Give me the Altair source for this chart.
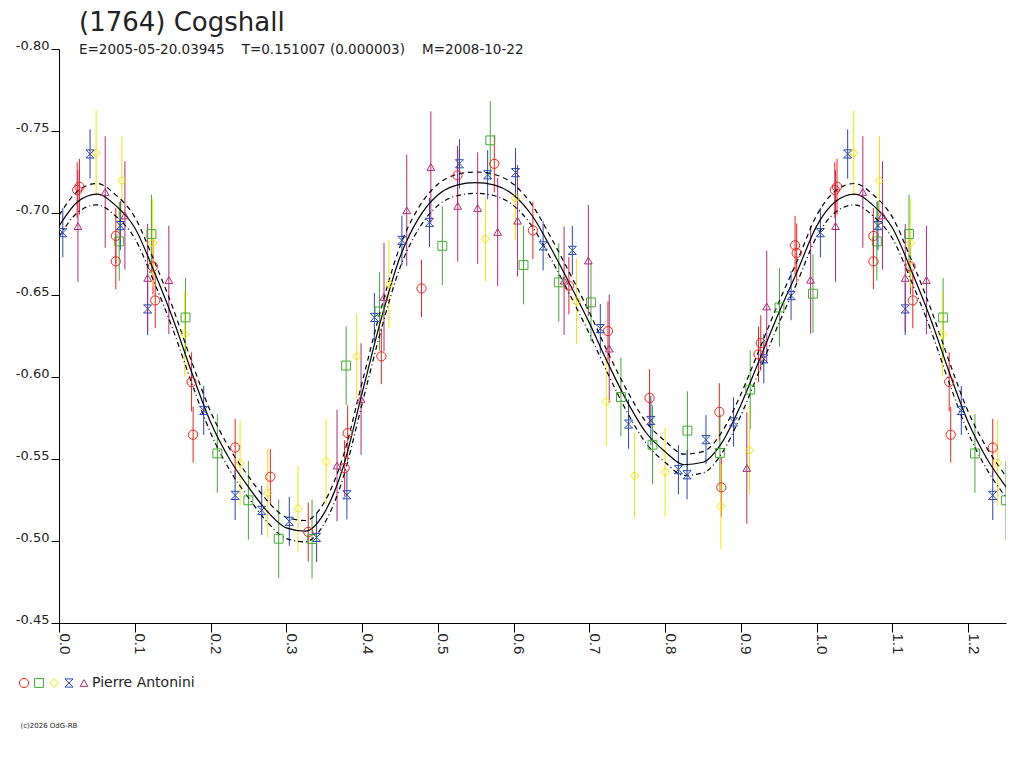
import altair as alt
import pandas as pd

# ---------------- data ----------------
# red circles
red_phase = [0.024, 0.027, 0.075, 0.075, 0.124, 0.127, 0.175, 0.177, 0.2325, 0.279, 0.329, 0.377, 0.381,
             0.4255, 0.4785, 0.526, 0.5746, 0.6255, 0.673, 0.7246, 0.7795, 0.8716, 0.8742, 0.9233, 0.9263,
             0.9716, 0.9737]
red_mag = [-0.714, -0.716, -0.686, -0.6705, -0.6674, -0.6467, -0.597, -0.5648, -0.557, -0.5392, -0.5055,
           -0.5445, -0.5658, -0.6126, -0.654, -0.7229, -0.730, -0.6894, -0.6557, -0.628, -0.5872, -0.5787,
           -0.5327, -0.6138, -0.6207, -0.6803, -0.6756]
red_err = [0.017, 0.017, 0.017, 0.017, 0.017, 0.017, 0.018, 0.017, 0.0175, 0.017, 0.018, 0.017, 0.017,
           0.017, 0.0175, 0.018, 0.0175, 0.0175, 0.0175, 0.018, 0.0175, 0.0175, 0.018, 0.017, 0.017,
           0.018, 0.018]

# green squares
green_phase = [0.0795, 0.122, 0.167, 0.209, 0.250, 0.290, 0.334, 0.379, 0.423, 0.506, 0.5693, 0.6132,
               0.6597, 0.7022, 0.7417, 0.7834, 0.8295, 0.8724, 0.9124, 0.951, 0.9952]
green_mag = [-0.6827, -0.6872, -0.6363, -0.5534, -0.5248, -0.5014, -0.5012, -0.607, -0.640, -0.680,
             -0.7443, -0.6683, -0.6577, -0.6455, -0.5878, -0.5587, -0.5673, -0.5537, -0.5923, -0.6424,
             -0.6508]
green_err = [0.024, 0.024, 0.024, 0.024, 0.024, 0.024, 0.024, 0.024, 0.024, 0.024, 0.024, 0.024,
             0.024, 0.024, 0.024, 0.024, 0.024, 0.024, 0.024, 0.024, 0.024]

# yellow diamonds
yellow_phase = [0.049, 0.083, 0.1237, 0.166, 0.239, 0.2755, 0.3154, 0.3526, 0.393, 0.4355, 0.5628,
                0.6026, 0.683, 0.7224, 0.7597, 0.800, 0.8737, 0.9114]
yellow_mag = [-0.7366, -0.7197, -0.6817, -0.6262, -0.5476, -0.5293, -0.5197, -0.5485, -0.6126, -0.6567,
              -0.6842, -0.7091, -0.6463, -0.585, -0.5398, -0.542, -0.5211, -0.5553]
yellow_err = [0.026, 0.027, 0.027, 0.026, 0.026, 0.027, 0.026, 0.026, 0.026, 0.027, 0.026,
              0.026, 0.026, 0.027, 0.026, 0.027, 0.026, 0.027]

# blue hourglasses
blue_phase = [0.005, 0.041, 0.081, 0.117, 0.191, 0.2325, 0.2676, 0.304, 0.340, 0.380, 0.4163, 0.4526,
              0.489, 0.5286, 0.5658, 0.6026, 0.639, 0.6776, 0.7145, 0.7518, 0.7812, 0.8176, 0.829,
              0.854, 0.8904, 0.9303, 0.9663]
blue_mag = [-0.688, -0.736, -0.6923, -0.6415, -0.5796, -0.5278, -0.5187, -0.512, -0.5022, -0.5282,
            -0.6363, -0.6833, -0.6943, -0.730, -0.7233, -0.7246, -0.680, -0.6772, -0.6295, -0.5713,
            -0.5735, -0.5435, -0.5404, -0.5618, -0.5726, -0.6111, -0.6496]
blue_err = [0.015, 0.015, 0.015, 0.016, 0.015, 0.015, 0.015, 0.015, 0.015, 0.015, 0.015, 0.015,
            0.015, 0.015, 0.015, 0.015, 0.015, 0.015, 0.015, 0.015, 0.015, 0.015, 0.015,
            0.015, 0.015, 0.015, 0.015]

# purple triangles
purple_phase = [0.025, 0.061, 0.087, 0.117, 0.145, 0.367, 0.3987, 0.429, 0.459, 0.4908, 0.5263, 0.5526,
                0.579, 0.6053, 0.6667, 0.6987, 0.7263, 0.9079, 0.9342, 0.9921]
purple_mag = [-0.692, -0.7128, -0.6985, -0.6604, -0.6591, -0.546, -0.5866, -0.6488, -0.7016, -0.728,
              -0.7043, -0.703, -0.6884, -0.6953, -0.6587, -0.671, -0.6173, -0.5445, -0.643, -0.6593]
purple_err = [0.034, 0.034, 0.033, 0.033, 0.033, 0.034, 0.034, 0.033, 0.034, 0.034, 0.034, 0.034,
              0.033, 0.034, 0.033, 0.034, 0.033, 0.034, 0.034, 0.033]

# fitted lightcurve and its envelope half-width
fit_phase = [0.000, 0.025, 0.050, 0.075, 0.100, 0.125, 0.150, 0.175, 0.200, 0.225, 0.250, 0.275,
             0.300, 0.325, 0.350, 0.375, 0.400, 0.425, 0.450, 0.475, 0.500, 0.525, 0.550, 0.575,
             0.600, 0.625, 0.650, 0.675, 0.700, 0.725, 0.750, 0.775, 0.800, 0.825, 0.850, 0.875,
             0.900, 0.925, 0.950, 0.975, 1.000]
fit_mag = [-0.692, -0.707, -0.7115, -0.7045, -0.691, -0.665, -0.636, -0.603, -0.5725, -0.550, -0.533,
           -0.518, -0.508, -0.506, -0.517, -0.545, -0.590, -0.635, -0.673, -0.697, -0.711, -0.717,
           -0.7185, -0.717, -0.711, -0.698, -0.678, -0.656, -0.633, -0.608, -0.585, -0.566, -0.5545,
           -0.5465, -0.548, -0.560, -0.583, -0.611, -0.639, -0.665, -0.692]
ENVELOPE = 0.0065

groups = ["r", "g", "y", "b", "p"]
group_colors = ["#ee2222", "#44aa33", "#f2e400", "#2a46b0", "#b02a78"]
HOURGLASS = "M-1,-1L1,-1L-1,1L1,1Z"
group_shapes = ["circle", "square", "diamond", HOURGLASS, "triangle-up"]
group_sizes = [85, 60, 115, 56, 90]

x_ticks = [0.0, 0.05, 0.1, 0.15, 0.2, 0.25, 0.3, 0.35, 0.4, 0.45, 0.5, 0.55, 0.6, 0.65, 0.7, 0.75,
           0.8, 0.85, 0.9, 0.95, 1.0, 1.05, 1.1, 1.15, 1.2, 1.25]
y_ticks = [-0.80, -0.75, -0.70, -0.65, -0.60, -0.55, -0.50, -0.45]

TITLE = "(1764) Cogshall"
NB = "\u00a0" * 4
SUBTITLE = "E=2005-05-20.03945" + NB + "T=0.151007 (0.000003)" + NB + "M=2008-10-22"
OBSERVER = "Pierre Antonini"
COPYRIGHT = "(c)2026 OdG-RB"

# ---------------- tables ----------------
rows = []
series = [("r", red_phase, red_mag, red_err), ("g", green_phase, green_mag, green_err),
          ("y", yellow_phase, yellow_mag, yellow_err), ("b", blue_phase, blue_mag, blue_err),
          ("p", purple_phase, purple_mag, purple_err)]
for key, ph, mg, er in series:
    for p, m, e in zip(ph, mg, er):
        rows.append({"obs": key, "phase": p, "mag": m, "lo": m - e, "hi": m + e})
        if p + 1.0 <= 1.25:
            rows.append({"obs": key, "phase": p + 1.0, "mag": m, "lo": m - e, "hi": m + e})
pts = pd.DataFrame(rows)

crow = [{"phase": p, "mag": m} for p, m in zip(fit_phase, fit_mag)]
crow += [{"phase": p + 1.0, "mag": m} for p, m in zip(fit_phase, fit_mag) if 0 < p <= 0.275]
curve = pd.DataFrame(crow)

# ---------------- scales / axes ----------------
xscale = alt.Scale(domain=[0, 1.25], nice=False, zero=False)
yscale = alt.Scale(domain=[-0.80, -0.45], reverse=True, nice=False, zero=False)

x_axis = alt.Axis(values=x_ticks,
                  labelExpr="abs(round(datum.value*20) % 2) == 0 ? format(datum.value, '.1f') : ''",
                  labelAngle=90, labelAlign="left", labelBaseline="alphabetic",
                  labelFont="Liberation Sans", labelFontSize=15, labelColor="#222222",
                  labelPadding=1, tickSize=9, labelFlush=False, labelOverlap=False,
                  domainColor="black", tickColor="black", grid=False,
                  title=COPYRIGHT, titleX=-39, titleY=102, titleFont="DejaVu Sans",
                  titleFontSize=7, titleFontWeight="normal", titleColor="#222222",
                  titleAlign="left", titleBaseline="middle", titleAngle=0)
y_axis = alt.Axis(values=y_ticks,
                  labelExpr="replace(format(datum.value, '.2f'), '\u2212', '-')",
                  labelFont="DejaVu Sans", labelFontSize=13, labelColor="#222222",
                  labelBaseline="alphabetic", labelPadding=2, tickSize=8, labelFlush=False,
                  labelOverlap=False, domainColor="black", tickColor="black", grid=False, title=None)

leg = alt.Legend(orient="none", legendX=-42, legendY=627, direction="horizontal", columns=5,
                 columnPadding=0, labelOffset=1, padding=0, title=None,
                 labelExpr=f"datum.value == 'p' ? '{OBSERVER}' : ''",
                 labelFont="DejaVu Sans", labelFontSize=14, labelColor="#222222",
                 symbolSize=70, symbolStrokeWidth=1, symbolFillColor="transparent")

color_scale = alt.Scale(domain=groups, range=group_colors)
color_enc = alt.Color("obs:N", scale=color_scale, legend=leg)
shape_enc = alt.Shape("obs:N", scale=alt.Scale(domain=groups, range=group_shapes), legend=leg)
size_enc = alt.Size("obs:N", scale=alt.Scale(domain=groups, range=group_sizes), legend=None)

base_pts = alt.Chart(pts)

bars = base_pts.mark_rule(strokeWidth=1, clip=True).encode(
    x=alt.X("phase:Q", scale=xscale, axis=x_axis),
    y=alt.Y("lo:Q", scale=yscale, axis=y_axis),
    y2="hi:Q",
    color=color_enc,
)

marks = base_pts.mark_point(filled=False, strokeWidth=1, opacity=1, clip=True).encode(
    x=alt.X("phase:Q", scale=xscale),
    y=alt.Y("mag:Q", scale=yscale),
    color=color_enc, shape=shape_enc, size=size_enc,
)

base_c = alt.Chart(curve)
solid = base_c.mark_line(color="black", strokeWidth=1.2, clip=True, interpolate="monotone").encode(
    x=alt.X("phase:Q", scale=xscale), y=alt.Y("mag:Q", scale=yscale), order="phase:Q")
dashed = base_c.transform_calculate(env=f"datum.mag - {ENVELOPE}").mark_line(
    color="black", strokeWidth=1.2, strokeDash=[5, 4], clip=True, interpolate="monotone").encode(
    x=alt.X("phase:Q", scale=xscale), y=alt.Y("env:Q", scale=yscale), order="phase:Q")
dashdot = base_c.transform_calculate(env=f"datum.mag + {ENVELOPE}").mark_line(
    color="black", strokeWidth=1.2, strokeDash=[5, 3, 1, 3], clip=True, interpolate="monotone").encode(
    x=alt.X("phase:Q", scale=xscale), y=alt.Y("env:Q", scale=yscale), order="phase:Q")

chart = alt.layer(bars, solid, dashed, dashdot, marks).properties(
    width=947, height=574,
    background="white",
    autosize=alt.AutoSizeParams(type="none"),
    padding={"left": 51, "top": 41, "right": 10, "bottom": 120},
    title=alt.TitleParams(text=TITLE, subtitle=SUBTITLE, anchor="start", frame="group", dx=20,
                          offset=-17, font="DejaVu Sans", fontSize=26, fontWeight="normal",
                          color="#222222", subtitleFont="DejaVu Sans", subtitleFontSize=13.5,
                          subtitleColor="#222222", subtitlePadding=7),
).configure_view(stroke=None)

chart.save("out.html", embed_options={"renderer": "svg", "actions": False})
